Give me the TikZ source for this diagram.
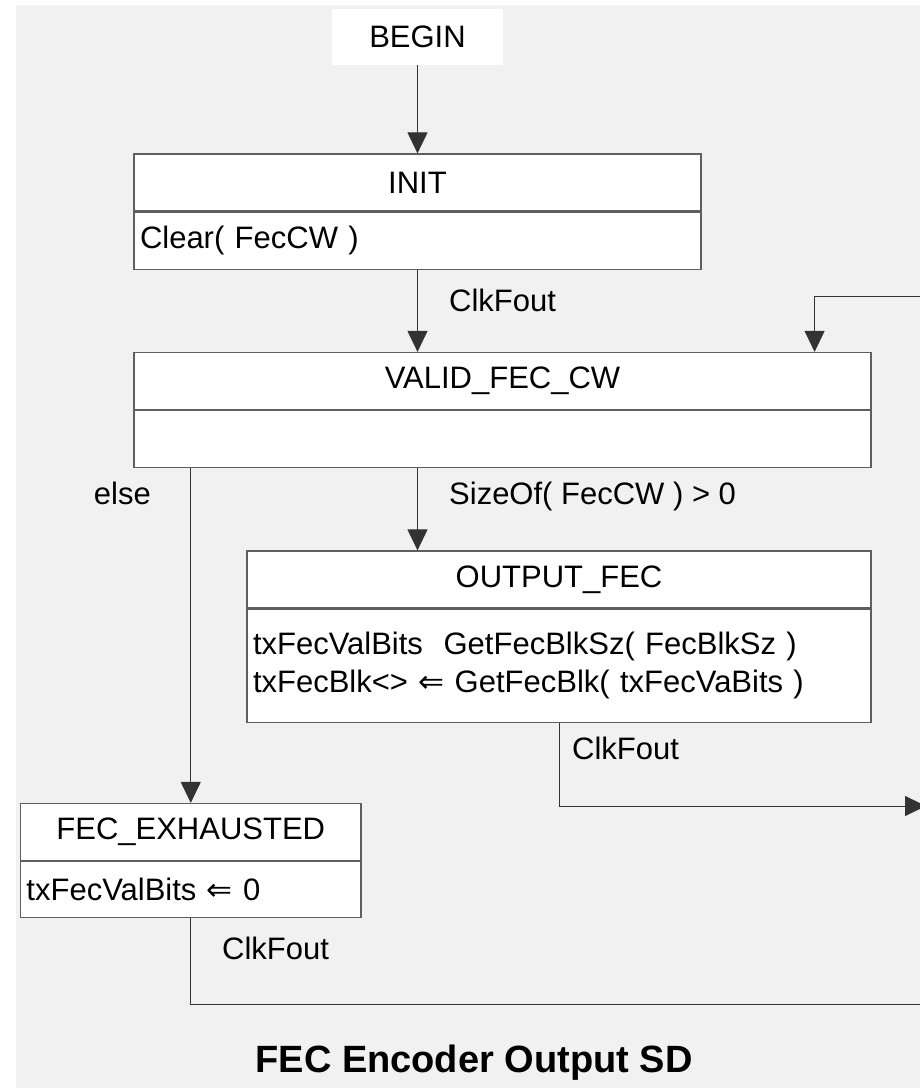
\documentclass[tikz,border=0pt]{standalone}
\usepackage{fontspec}
\setmainfont{Liberation Sans}
\newfontfamily\symfont{DejaVu Sans}
\usetikzlibrary{arrows.meta}
\definecolor{sheetgray}{RGB}{241,241,241}
\definecolor{edgegray}{RGB}{95,95,95}
\newcommand{\getsarrow}{{\symfont ⇐}}

\begin{document}
\begin{tikzpicture}[x=1pt, y=-1pt, >={Triangle[length=21pt, width=20pt]},
  font=\fontsize{31}{38}\selectfont,
  head/.style={draw=edgegray, line width=1.2pt, fill=white, minimum width=#1, minimum height=57pt, inner sep=0pt},
  body/.style={draw=edgegray, line width=1.2pt, fill=white, text width=#1, inner xsep=6pt, inner ysep=0pt, minimum height=57pt, align=left, anchor=north},
  wire/.style={black!80, line width=1pt},
  lbl/.style={anchor=base west, inner sep=0pt}]
  \useasboundingbox (0,0) rectangle (920,1088);
  \clip (0,0) rectangle (920,1088);
  \fill[sheetgray] (16,5) rectangle (930,1100);

  \node[fill=white, minimum width=171pt, minimum height=56pt] (begin) at (417.5, 37) {BEGIN};

  % states: title part + action part
  \node[head=567pt] (init) at (417.5, 182.5) {INIT};
  \node[body=555pt] (initBody) at (init.south) {Clear( FecCW )};

  \node[head=737pt] (valid) at (502.5, 381) {VALID\_FEC\_CW};
  \node[body=725pt] (validBody) at (valid.south) {};

  \node[head=624pt] (output) at (559, 579.5) {OUTPUT\_FEC};
  \node[body=612pt, minimum height=113pt] (outputBody) at (output.south)
    {txFecValBits\ \ GetFecBlkSz( FecBlkSz )\\txFecBlk<> \getsarrow{} GetFecBlk( txFecVaBits )};

  \node[head=340.5pt] (exh) at (190.75, 832) {FEC\_EXHAUSTED};
  \node[body=328.5pt, minimum height=56pt] (exhBody) at (exh.south) {txFecValBits \getsarrow{} 0};

  % transitions
  \draw[wire, ->] (begin.south) -- (init.north);
  \draw[wire, ->] (initBody.south) -- (initBody.south |- valid.north);
  \coordinate (fbIn) at (930, 296);
  \draw[wire, ->] (fbIn) -| ([xshift=-57pt]valid.north east);
  \draw[wire, ->] (initBody.south |- validBody.south) -- (initBody.south |- output.north);
  \draw[wire, ->] (exh.north |- validBody.south) -- (exh.north);
  \coordinate (outR) at (926, 806);
  \draw[wire, ->] (outputBody.south) |- (outR);
  \coordinate (exhR) at (930, 1004);
  \draw[wire] (exhBody.south) |- (exhR);

  \node[lbl] (clk1) at (449, 311) {ClkFout};
  \node[anchor=base east, inner sep=0pt] (elseLbl) at (151, 504) {else};
  \node[lbl] (sizeLbl) at (449, 504) {SizeOf( FecCW ) > 0};
  \node[lbl] (clk2) at (572, 759) {ClkFout};
  \node[lbl] (clk3) at (222, 959) {ClkFout};

  \node[font=\fontsize{38}{44}\selectfont\bfseries, anchor=base] (title) at (474, 1072) {FEC Encoder Output SD};
\end{tikzpicture}
\end{document}
